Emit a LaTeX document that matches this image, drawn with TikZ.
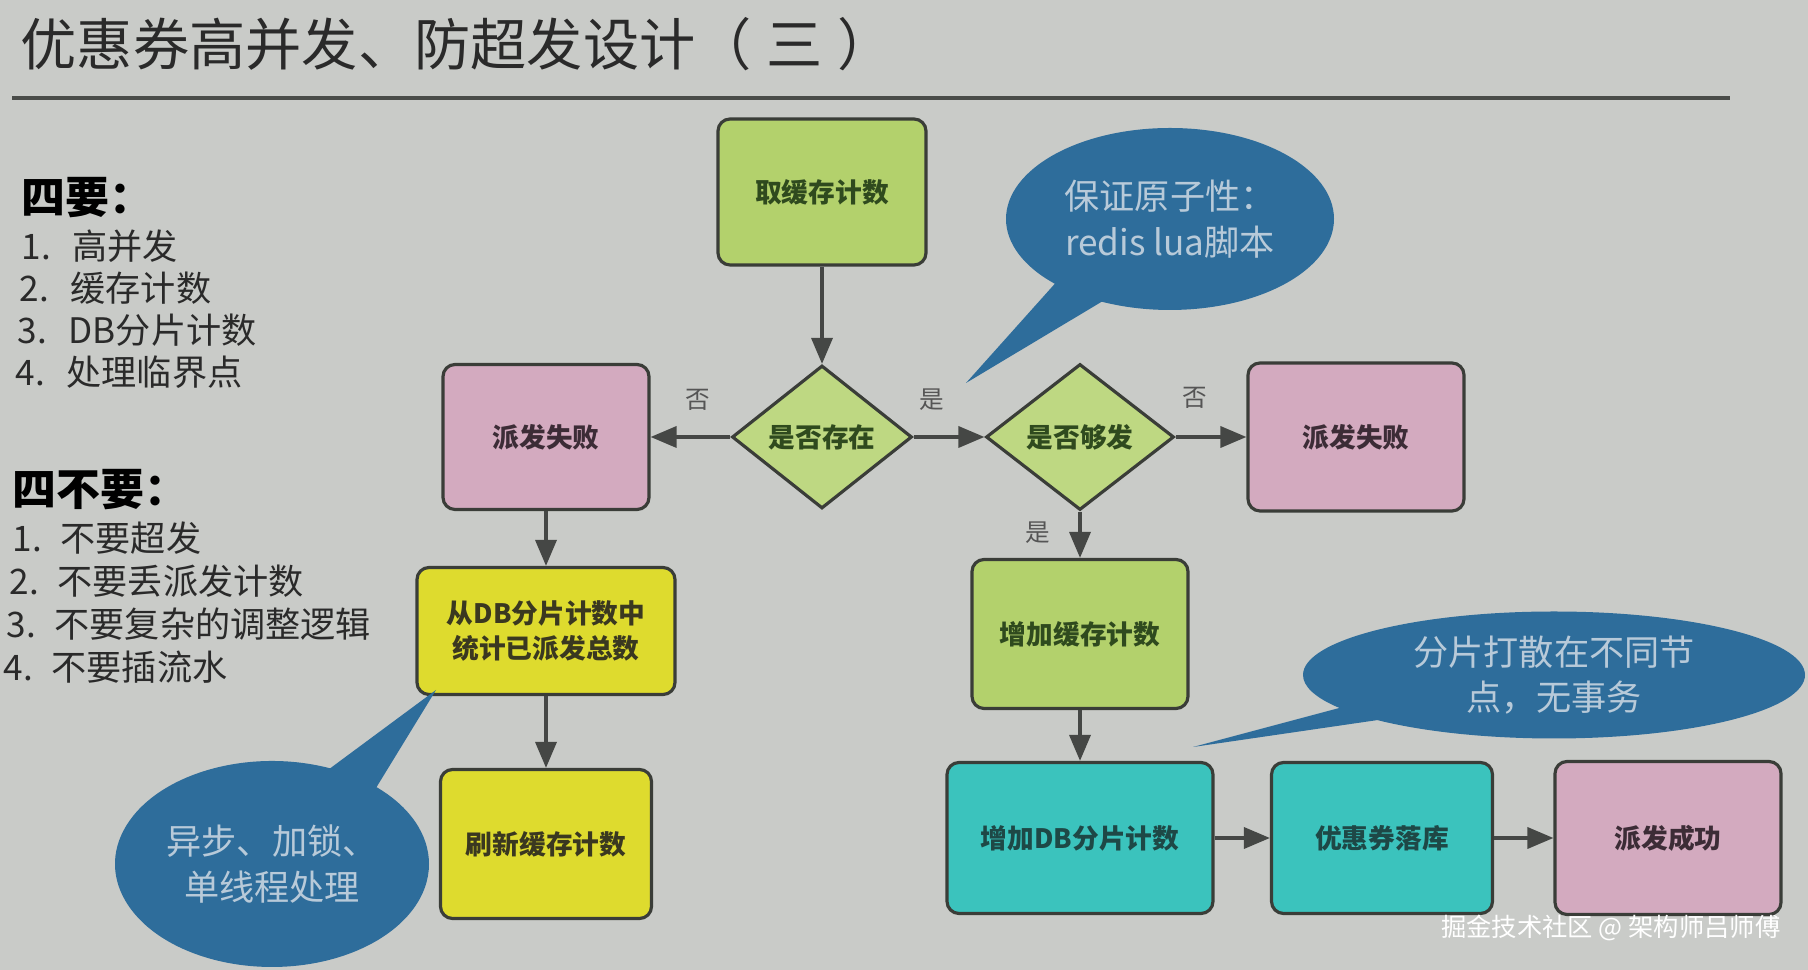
\documentclass[tikz,border=0pt]{standalone}
\usepackage{fontspec}
\setmainfont{Noto Sans CJK SC}
\usetikzlibrary{arrows.meta,positioning,shapes.geometric,shapes.callouts}

\definecolor{slidebg}{HTML}{C9CBC8}
\definecolor{rulegray}{HTML}{4A4C49}
\definecolor{boxline}{HTML}{3A3D38}
\definecolor{leafgreen}{HTML}{B3D16C}
\definecolor{leaftext}{HTML}{2F4A1E}
\definecolor{rosefill}{HTML}{D3AABF}
\definecolor{rosetext}{HTML}{3C2C36}
\definecolor{lemonfill}{HTML}{DEDB2E}
\definecolor{lemontext}{HTML}{3A3820}
\definecolor{tealfill}{HTML}{3BC3BD}
\definecolor{tealtext}{HTML}{1E4846}
\definecolor{bubbleblue}{HTML}{2E6D9B}
\definecolor{bubbletext}{HTML}{B8CAD9}
\definecolor{arrowgray}{HTML}{454745}
\definecolor{inkgray}{HTML}{2A2A2A}

\begin{document}
\begin{tikzpicture}[x=0.1mm,y=-0.1mm,
  stagebox/.style={draw=boxline,line width=0.9pt,rounded corners=1.2mm,inner sep=0pt,align=center,
    font=\fontsize{7.6pt}{10pt}\selectfont\bfseries},
  leaf/.style={stagebox,fill=leafgreen,text=leaftext},
  rose/.style={stagebox,fill=rosefill,text=rosetext},
  lemon/.style={stagebox,fill=lemonfill,text=lemontext},
  teal/.style={stagebox,fill=tealfill,text=tealtext},
  check/.style={diamond,draw=boxline,line width=0.9pt,fill=leafgreen!85!white,text=leaftext,inner sep=0pt,
    font=\fontsize{7.6pt}{10pt}\selectfont\bfseries},
  flow/.style={-{Triangle[length=2.6mm,width=2.1mm]},line width=1pt,arrowgray},
  branch/.style={inner sep=0pt,text=inkgray!80,font=\fontsize{7pt}{8pt}\selectfont},
  bubble/.style={ellipse callout,fill=bubbleblue,text=bubbletext,inner sep=0pt,align=center,
    callout pointer arc=20,font=\fontsize{10pt}{13pt}\selectfont},
  note/.style={anchor=west,inner sep=0pt,text=inkgray,font=\fontsize{10pt}{12pt}\selectfont},
  notehead/.style={anchor=west,inner sep=0pt,text=black,font=\fontsize{12.5pt}{14pt}\selectfont\bfseries}]
\fill[slidebg] (0,0) rectangle (1808,970);
\useasboundingbox (0,0) rectangle (1808,970);

% title and rule
\node[anchor=west,inner sep=0pt,text=inkgray,font=\fontsize{16pt}{18pt}\selectfont] (title) at (20,44) {优惠券高并发、防超发设计（\hspace{1.5mm}三\hspace{1.5mm}）};
\coordinate (ruleL) at (12,98);
\coordinate (ruleR) at (1730,98);
\draw[rulegray,line width=0.45mm] (ruleL) -- (ruleR);

% left notes
\node[notehead] (yaohead) at (21,198) {四要：};
\foreach \n/\t in {1/高并发,2/缓存计数,3/DB分片计数,4/处理临界点}
  \node[note] (yao\n) at (23-2*\n,204+42*\n) {\makebox[5.1mm][l]{\n.}\t};
\node[notehead] (buyaohead) at (12,490) {四不要：};
\foreach \n/\t in {1/不要超发,2/不要丢派发计数,3/不要复杂的调整逻辑,4/不要插流水}
  \node[note] (buyao\n) at (15-3*\n,495+43*\n) {\makebox[4.8mm][l]{\n.}\t};

% flow
\node[leaf,minimum width=20.8mm,minimum height=14.6mm] (fetch) at (822,192) {取缓存计数};
\node[check,minimum width=18mm,minimum height=14.3mm] (exists) at (822,437) {是否存在};
\node[rose,minimum width=20.6mm,minimum height=14.5mm] (failleft) at (546,437) {派发失败};
\node[check,minimum width=18.8mm,minimum height=14.6mm] (enough) at (1080,437) {是否够发};
\node[rose,minimum width=21.6mm,minimum height=14.8mm] (failright) at (1356,437) {派发失败};
\node[leaf,minimum width=21.6mm,minimum height=14.9mm] (addcache) at (1080,634) {增加缓存计数};
\node[teal,minimum width=26.6mm,minimum height=15.1mm] (adddb) at (1080,838) {增加DB分片计数};
\node[teal,minimum width=22.1mm,minimum height=15.1mm] (persist) at (1382,838) {优惠券落库};
\node[rose,minimum width=22.6mm,minimum height=15.3mm] (success) at (1668,838) {派发成功};
\node[lemon,minimum width=25.8mm,minimum height=12.7mm] (dbsum) at (546,631) {从DB分片计数中\\统计已派发总数};
\node[lemon,minimum width=21.1mm,minimum height=14.9mm] (refresh) at (546,844) {刷新缓存计数};
\foreach \a/\b in {fetch/exists,exists/failleft,exists/enough,enough/failright,enough/addcache,
  failleft/dbsum,dbsum/refresh,addcache/adddb,adddb/persist,persist/success}
  \draw[flow] (\a)--(\b);
\node[branch] (noexist) at (698,400) {否};
\node[branch] (yesexist) at (932,400) {是};
\node[branch] (noenough) at (1195,398) {否};
\node[branch] (yesenough) at (1038,533) {是};

% callouts
\node[bubble,minimum width=32.8mm,minimum height=18.2mm,callout absolute pointer={(966,383)}] (atomic) at (1170,219) {保证原子性：\\redis lua脚本};
\node[bubble,minimum width=31.4mm,minimum height=20.6mm,callout absolute pointer={(436,690)}] (locking) at (272,864) {异步、加锁、\\单线程处理};
\node[bubble,minimum width=50.2mm,minimum height=12.7mm,callout pointer arc=14,callout absolute pointer={(1193,747)}] (shards) at (1554,675) {分片打散在不同节\\点，无事务};

\node[anchor=east,inner sep=0pt,text=white,font=\fontsize{7.2pt}{9pt}\selectfont] (mark) at (1781,928) {掘金技术社区 @ 架构师吕师傅};
\end{tikzpicture}
\end{document}
